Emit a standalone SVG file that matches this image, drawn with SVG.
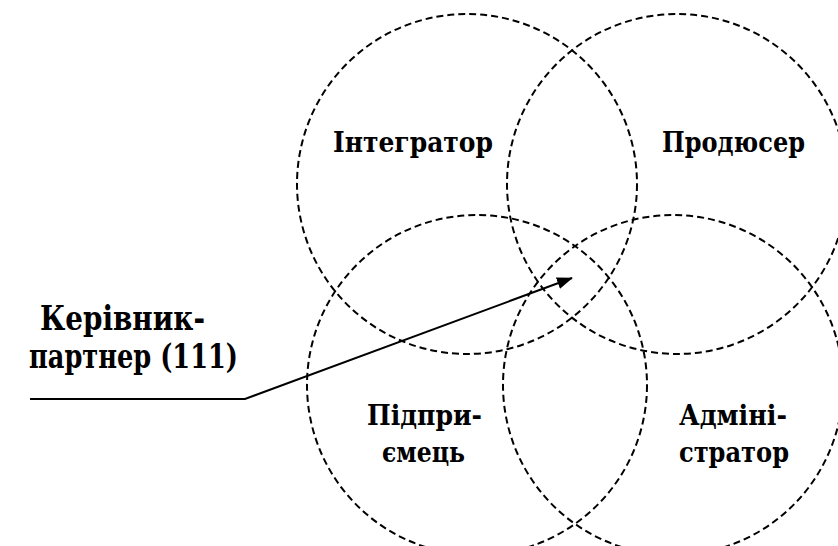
<svg xmlns="http://www.w3.org/2000/svg" width="838" height="546" viewBox="0 0 838 546">
<style>
.c{fill:none;stroke:#000;stroke-width:2;stroke-dasharray:7 4}
.t{font-family:'DejaVu Serif',serif;font-weight:bold;font-size:28px;fill:#000}
.k{font-size:33px}
.l{fill:none;stroke:#000;stroke-width:2}
</style>
<defs>
<marker id="ah" markerWidth="16" markerHeight="12" refX="15" refY="6" orient="auto" markerUnits="userSpaceOnUse">
<path d="M0,0 L16,6 L0,12 Z" fill="#000"/>
</marker>
</defs>
<rect width="838" height="546" fill="#fff"/>
<g id="integrator"><circle class="c" cx="467" cy="184" r="170"/><text class="t" x="333" y="152" textLength="160" lengthAdjust="spacingAndGlyphs">Інтегратор</text></g>
<g id="producer"><circle class="c" cx="677" cy="184" r="170"/><text class="t" x="662" y="152" textLength="143" lengthAdjust="spacingAndGlyphs">Продюсер</text></g>
<g id="entrepreneur"><circle class="c" cx="477" cy="385" r="170"/><text class="t" x="367" y="425" textLength="115" lengthAdjust="spacingAndGlyphs">Підпри-</text><text class="t" x="382" y="462" textLength="83" lengthAdjust="spacingAndGlyphs">ємець</text></g>
<g id="administrator"><circle class="c" cx="673" cy="385" r="170"/><text class="t" x="679" y="425" textLength="108" lengthAdjust="spacingAndGlyphs">Адміні-</text><text class="t" x="679" y="462" textLength="110" lengthAdjust="spacingAndGlyphs">стратор</text></g>
<g id="partner"><text class="t k" x="40" y="330" textLength="165" lengthAdjust="spacingAndGlyphs">Керівник-</text><text class="t k" x="29" y="368" textLength="209" lengthAdjust="spacingAndGlyphs">партнер (111)</text></g>
<g id="connectors"><path class="l" d="M30,399 L245,399 L572,278" marker-end="url(#ah)"/></g>
</svg>
